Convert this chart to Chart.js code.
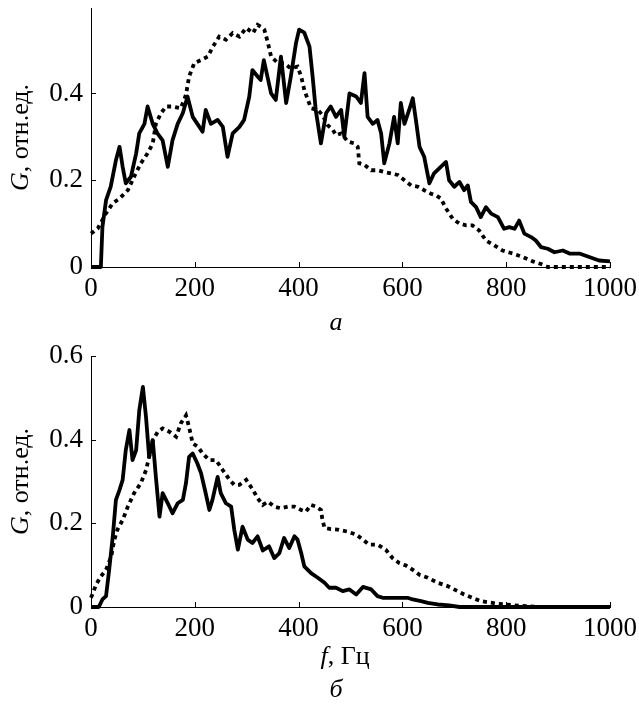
<!DOCTYPE html>
<html>
<head>
<meta charset="utf-8">
<script src="https://cdn.jsdelivr.net/npm/chart.js@4.4.1/dist/chart.umd.min.js"></script>
<style>
  body { margin: 0; background: #fff; }
  canvas { display: block; }
</style>
</head>
<body>
<canvas id="chartA" width="639" height="345"></canvas>
<canvas id="chartB" width="639" height="366"></canvas>
<script>
// panel "а" : solid curve
const aSolidF = [0, 19, 22, 29, 38, 48, 55, 61, 67, 77, 87, 93, 103, 109, 119, 128, 138, 148, 157, 167, 177, 186, 196, 205, 215, 221, 231, 244, 254, 263, 273, 286, 295, 305, 311, 321, 327, 333, 347, 356, 366, 376, 385, 395, 401, 411, 421, 427, 433, 443, 453, 462, 472, 482, 488, 498, 511, 520, 527, 533, 543, 552, 559, 565, 575, 584, 591, 597, 604, 613, 620, 626, 633, 642, 652, 661, 674, 684, 690, 700, 710, 719, 726, 732, 742, 751, 761, 771, 784, 796, 806, 816, 825, 835, 848, 857, 867, 880, 893, 909, 922, 941, 960, 979, 1000];
const aSolidG = [0, 0, 0.092, 0.154, 0.185, 0.246, 0.277, 0.231, 0.193, 0.208, 0.262, 0.308, 0.33, 0.37, 0.33, 0.308, 0.292, 0.231, 0.292, 0.33, 0.355, 0.393, 0.346, 0.33, 0.312, 0.362, 0.33, 0.339, 0.323, 0.254, 0.308, 0.323, 0.339, 0.393, 0.454, 0.439, 0.431, 0.477, 0.40, 0.385, 0.485, 0.378, 0.439, 0.516, 0.547, 0.54, 0.508, 0.439, 0.362, 0.285, 0.355, 0.37, 0.346, 0.362, 0.30, 0.40, 0.393, 0.378, 0.447, 0.346, 0.33, 0.339, 0.308, 0.239, 0.285, 0.346, 0.285, 0.378, 0.33, 0.362, 0.389, 0.339, 0.277, 0.254, 0.193, 0.216, 0.231, 0.242, 0.20, 0.185, 0.196, 0.177, 0.188, 0.15, 0.138, 0.115, 0.138, 0.123, 0.115, 0.088, 0.092, 0.088, 0.107, 0.077, 0.069, 0.061, 0.046, 0.042, 0.034, 0.038, 0.031, 0.031, 0.023, 0.015, 0.013];

// panel "а" : dotted curve
const aDotF = [0, 13, 29, 42, 55, 71, 83, 96, 109, 119, 125, 135, 145, 157, 173, 183, 189, 199, 212, 225, 235, 247, 260, 273, 286, 299, 312, 321, 331, 334, 341, 347, 360, 372, 385, 398, 405, 411, 418, 424, 437, 446, 456, 466, 472, 482, 495, 507, 514, 517, 527, 540, 552, 565, 578, 591, 604, 617, 630, 642, 655, 665, 674, 684, 697, 710, 723, 735, 748, 761, 777, 793, 813, 832, 851, 867, 880, 1000];
const aDotG = [0.077, 0.089, 0.124, 0.147, 0.158, 0.177, 0.208, 0.239, 0.262, 0.285, 0.33, 0.355, 0.37, 0.37, 0.366, 0.397, 0.439, 0.47, 0.477, 0.485, 0.508, 0.531, 0.524, 0.539, 0.531, 0.551, 0.539, 0.558, 0.551, 0.547, 0.516, 0.485, 0.47, 0.47, 0.458, 0.462, 0.439, 0.408, 0.385, 0.366, 0.362, 0.35, 0.327, 0.316, 0.304, 0.308, 0.289, 0.285, 0.277, 0.239, 0.235, 0.223, 0.223, 0.219, 0.216, 0.212, 0.20, 0.188, 0.185, 0.177, 0.169, 0.165, 0.158, 0.135, 0.111, 0.10, 0.096, 0.096, 0.084, 0.061, 0.05, 0.038, 0.031, 0.023, 0.013, 0.007, 0, 0];

// panel "б" : solid curve
const bSolidF = [0, 15, 22, 29, 35, 42, 48, 55, 61, 67, 74, 80, 87, 93, 100, 106, 112, 119, 125, 132, 138, 148, 157, 167, 177, 183, 189, 196, 205, 212, 221, 228, 234, 244, 250, 260, 270, 276, 283, 292, 302, 311, 321, 331, 343, 353, 363, 372, 382, 392, 398, 405, 411, 424, 437, 450, 459, 472, 485, 498, 511, 524, 540, 552, 562, 584, 610, 620, 636, 649, 668, 690, 710, 1000];
const bSolidG = [0, 0, 0.018, 0.026, 0.089, 0.169, 0.256, 0.28, 0.304, 0.375, 0.423, 0.351, 0.375, 0.47, 0.526, 0.454, 0.359, 0.399, 0.311, 0.216, 0.272, 0.248, 0.224, 0.248, 0.256, 0.296, 0.359, 0.367, 0.343, 0.32, 0.272, 0.232, 0.256, 0.311, 0.272, 0.248, 0.24, 0.185, 0.137, 0.192, 0.161, 0.153, 0.169, 0.135, 0.145, 0.117, 0.129, 0.165, 0.141, 0.169, 0.161, 0.129, 0.097, 0.081, 0.07, 0.058, 0.046, 0.046, 0.038, 0.042, 0.03, 0.048, 0.042, 0.026, 0.022, 0.022, 0.022, 0.018, 0.014, 0.01, 0.006, 0.004, 0, 0];

// panel "б" : dotted curve
const bDotF = [0, 10, 19, 29, 39, 45, 51, 61, 71, 83, 96, 106, 112, 119, 129, 138, 151, 164, 173, 183, 189, 196, 206, 215, 228, 241, 254, 267, 276, 286, 299, 312, 321, 331, 341, 353, 366, 379, 392, 405, 414, 424, 434, 443, 446, 450, 462, 475, 495, 511, 524, 536, 552, 568, 581, 594, 607, 620, 633, 649, 668, 687, 719, 751, 783, 816, 841, 870, 1000];
const bDotG = [0.022, 0.054, 0.073, 0.089, 0.121, 0.161, 0.185, 0.208, 0.24, 0.272, 0.296, 0.327, 0.359, 0.399, 0.419, 0.427, 0.419, 0.407, 0.439, 0.458, 0.43, 0.391, 0.383, 0.367, 0.351, 0.351, 0.327, 0.304, 0.292, 0.292, 0.304, 0.28, 0.26, 0.244, 0.252, 0.24, 0.236, 0.24, 0.24, 0.232, 0.228, 0.244, 0.24, 0.232, 0.208, 0.189, 0.186, 0.185, 0.18, 0.173, 0.161, 0.149, 0.149, 0.137, 0.117, 0.105, 0.099, 0.089, 0.077, 0.07, 0.058, 0.05, 0.03, 0.014, 0.008, 0.004, 0.002, 0, 0];

const xTicks = [0, 200, 400, 600, 800, 1000];
const yTicksA = [0, 0.2, 0.4];
const yTicksB = [0, 0.2, 0.4, 0.6];

const serif = "'Liberation Serif', 'Times New Roman', serif";
Chart.defaults.font.family = serif;
Chart.defaults.color = '#000';

function points(fs, gs) {
    return fs.map((f, i) => ({ x: f, y: gs[i] }));
}

function solid(fs, gs) {
    return {
        data: points(fs, gs),
        borderColor: '#000',
        borderWidth: 3.8,
        borderJoinStyle: 'round',
        pointRadius: 0,
        tension: 0,
        clip: 4
    };
}

function dotted(fs, gs) {
    return {
        data: points(fs, gs),
        borderColor: '#000',
        borderWidth: 3.8,
        borderDash: [4, 4],
        borderCapStyle: 'butt',
        pointRadius: 0,
        tension: 0,
        clip: 4
    };
}

// small ticks pointing into the plot, like the original figure
const innerTicks = {
    id: 'innerTicks',
    afterDraw(chart) {
        const ctx = chart.ctx;
        const area = chart.chartArea;
        const x = chart.scales.x, y = chart.scales.y;
        ctx.save();
        ctx.strokeStyle = '#000';
        ctx.lineWidth = 1;
        ctx.beginPath();
        x.ticks.forEach(t => {
            const px = Math.round(x.getPixelForValue(t.value)) + 0.5;
            ctx.moveTo(px, area.bottom);
            ctx.lineTo(px, area.bottom - 5);
        });
        y.ticks.forEach(t => {
            const py = Math.round(y.getPixelForValue(t.value)) + 0.5;
            ctx.moveTo(area.left, py);
            ctx.lineTo(area.left + 5, py);
        });
        ctx.stroke();
        ctx.restore();
    }
};

// captions with mixed italic / upright parts
function drawParts(ctx, parts, cx, cy, size) {
    const fonts = parts.map(p => (p[1] ? 'italic ' : '') + size + 'px ' + serif);
    const widths = parts.map((p, i) => { ctx.font = fonts[i]; return ctx.measureText(p[0]).width; });
    let x = cx - widths.reduce((a, b) => a + b, 0) / 2;
    ctx.textAlign = 'left';
    ctx.textBaseline = 'middle';
    parts.forEach((p, i) => {
        ctx.font = fonts[i];
        ctx.fillText(p[0], x, cy);
        x += widths[i];
    });
}

const captions = {
    id: 'captions',
    afterDraw(chart, args, opts) {
        const ctx = chart.ctx;
        const area = chart.chartArea;
        ctx.save();
        ctx.fillStyle = '#000';
        ctx.translate(opts.yTitleX, (area.top + area.bottom) / 2);
        ctx.rotate(-Math.PI / 2);
        drawParts(ctx, [['G', true], [', отн.ед.', false]], 0, 0, 26);
        ctx.restore();
        ctx.save();
        ctx.fillStyle = '#000';
        opts.lines.forEach(l => drawParts(ctx, l.parts, l.x, l.y, 26));
        ctx.restore();
    }
};

function makeOptions(yMax, yTicks, padTop, xHeight, lines) {
    return {
        responsive: false,
        animation: false,
        layout: { padding: { left: 0, right: 29, top: padTop, bottom: 0 } },
        plugins: {
            legend: { display: false },
            tooltip: { enabled: false },
            captions: { yTitleX: 21, lines: lines }
        },
        scales: {
            x: {
                type: 'linear',
                min: 0,
                max: 1000,
                afterBuildTicks: s => { s.ticks = xTicks.map(v => ({ value: v })); },
                afterFit: s => { s.height = xHeight; s.paddingLeft = 0; s.paddingRight = 0; },
                grid: { drawOnChartArea: false, drawTicks: false },
                border: { display: true, color: '#000', width: 1 },
                ticks: { font: { size: 27 }, padding: 6, maxRotation: 0, callback: v => String(v) }
            },
            y: {
                type: 'linear',
                min: 0,
                max: yMax,
                afterBuildTicks: s => { s.ticks = yTicks.map(v => ({ value: v })); },
                afterFit: s => { s.width = 91; s.paddingTop = 0; s.paddingBottom = 0; },
                grid: { drawOnChartArea: false, drawTicks: false },
                border: { display: true, color: '#000', width: 1 },
                ticks: { font: { size: 27 }, padding: 8, callback: v => (v === 0 ? '0' : v.toFixed(1)) }
            }
        }
    };
}

new Chart(document.getElementById('chartA').getContext('2d'), {
    type: 'line',
    data: { datasets: [dotted(aDotF, aDotG), solid(aSolidF, aSolidG)] },
    options: makeOptions(0.597, yTicksA, 8, 78, [
        { x: 336, y: 323, parts: [['а', true]] }
    ]),
    plugins: [innerTicks, captions]
});

new Chart(document.getElementById('chartB').getContext('2d'), {
    type: 'line',
    data: { datasets: [dotted(bDotF, bDotG), solid(bSolidF, bSolidG)] },
    options: makeOptions(0.6, yTicksB, 11, 104, [
        { x: 345, y: 312, parts: [['f', true], [', Гц', false]] },
        { x: 336, y: 345, parts: [['б', true]] }
    ]),
    plugins: [innerTicks, captions]
});
</script>
</body>
</html>
